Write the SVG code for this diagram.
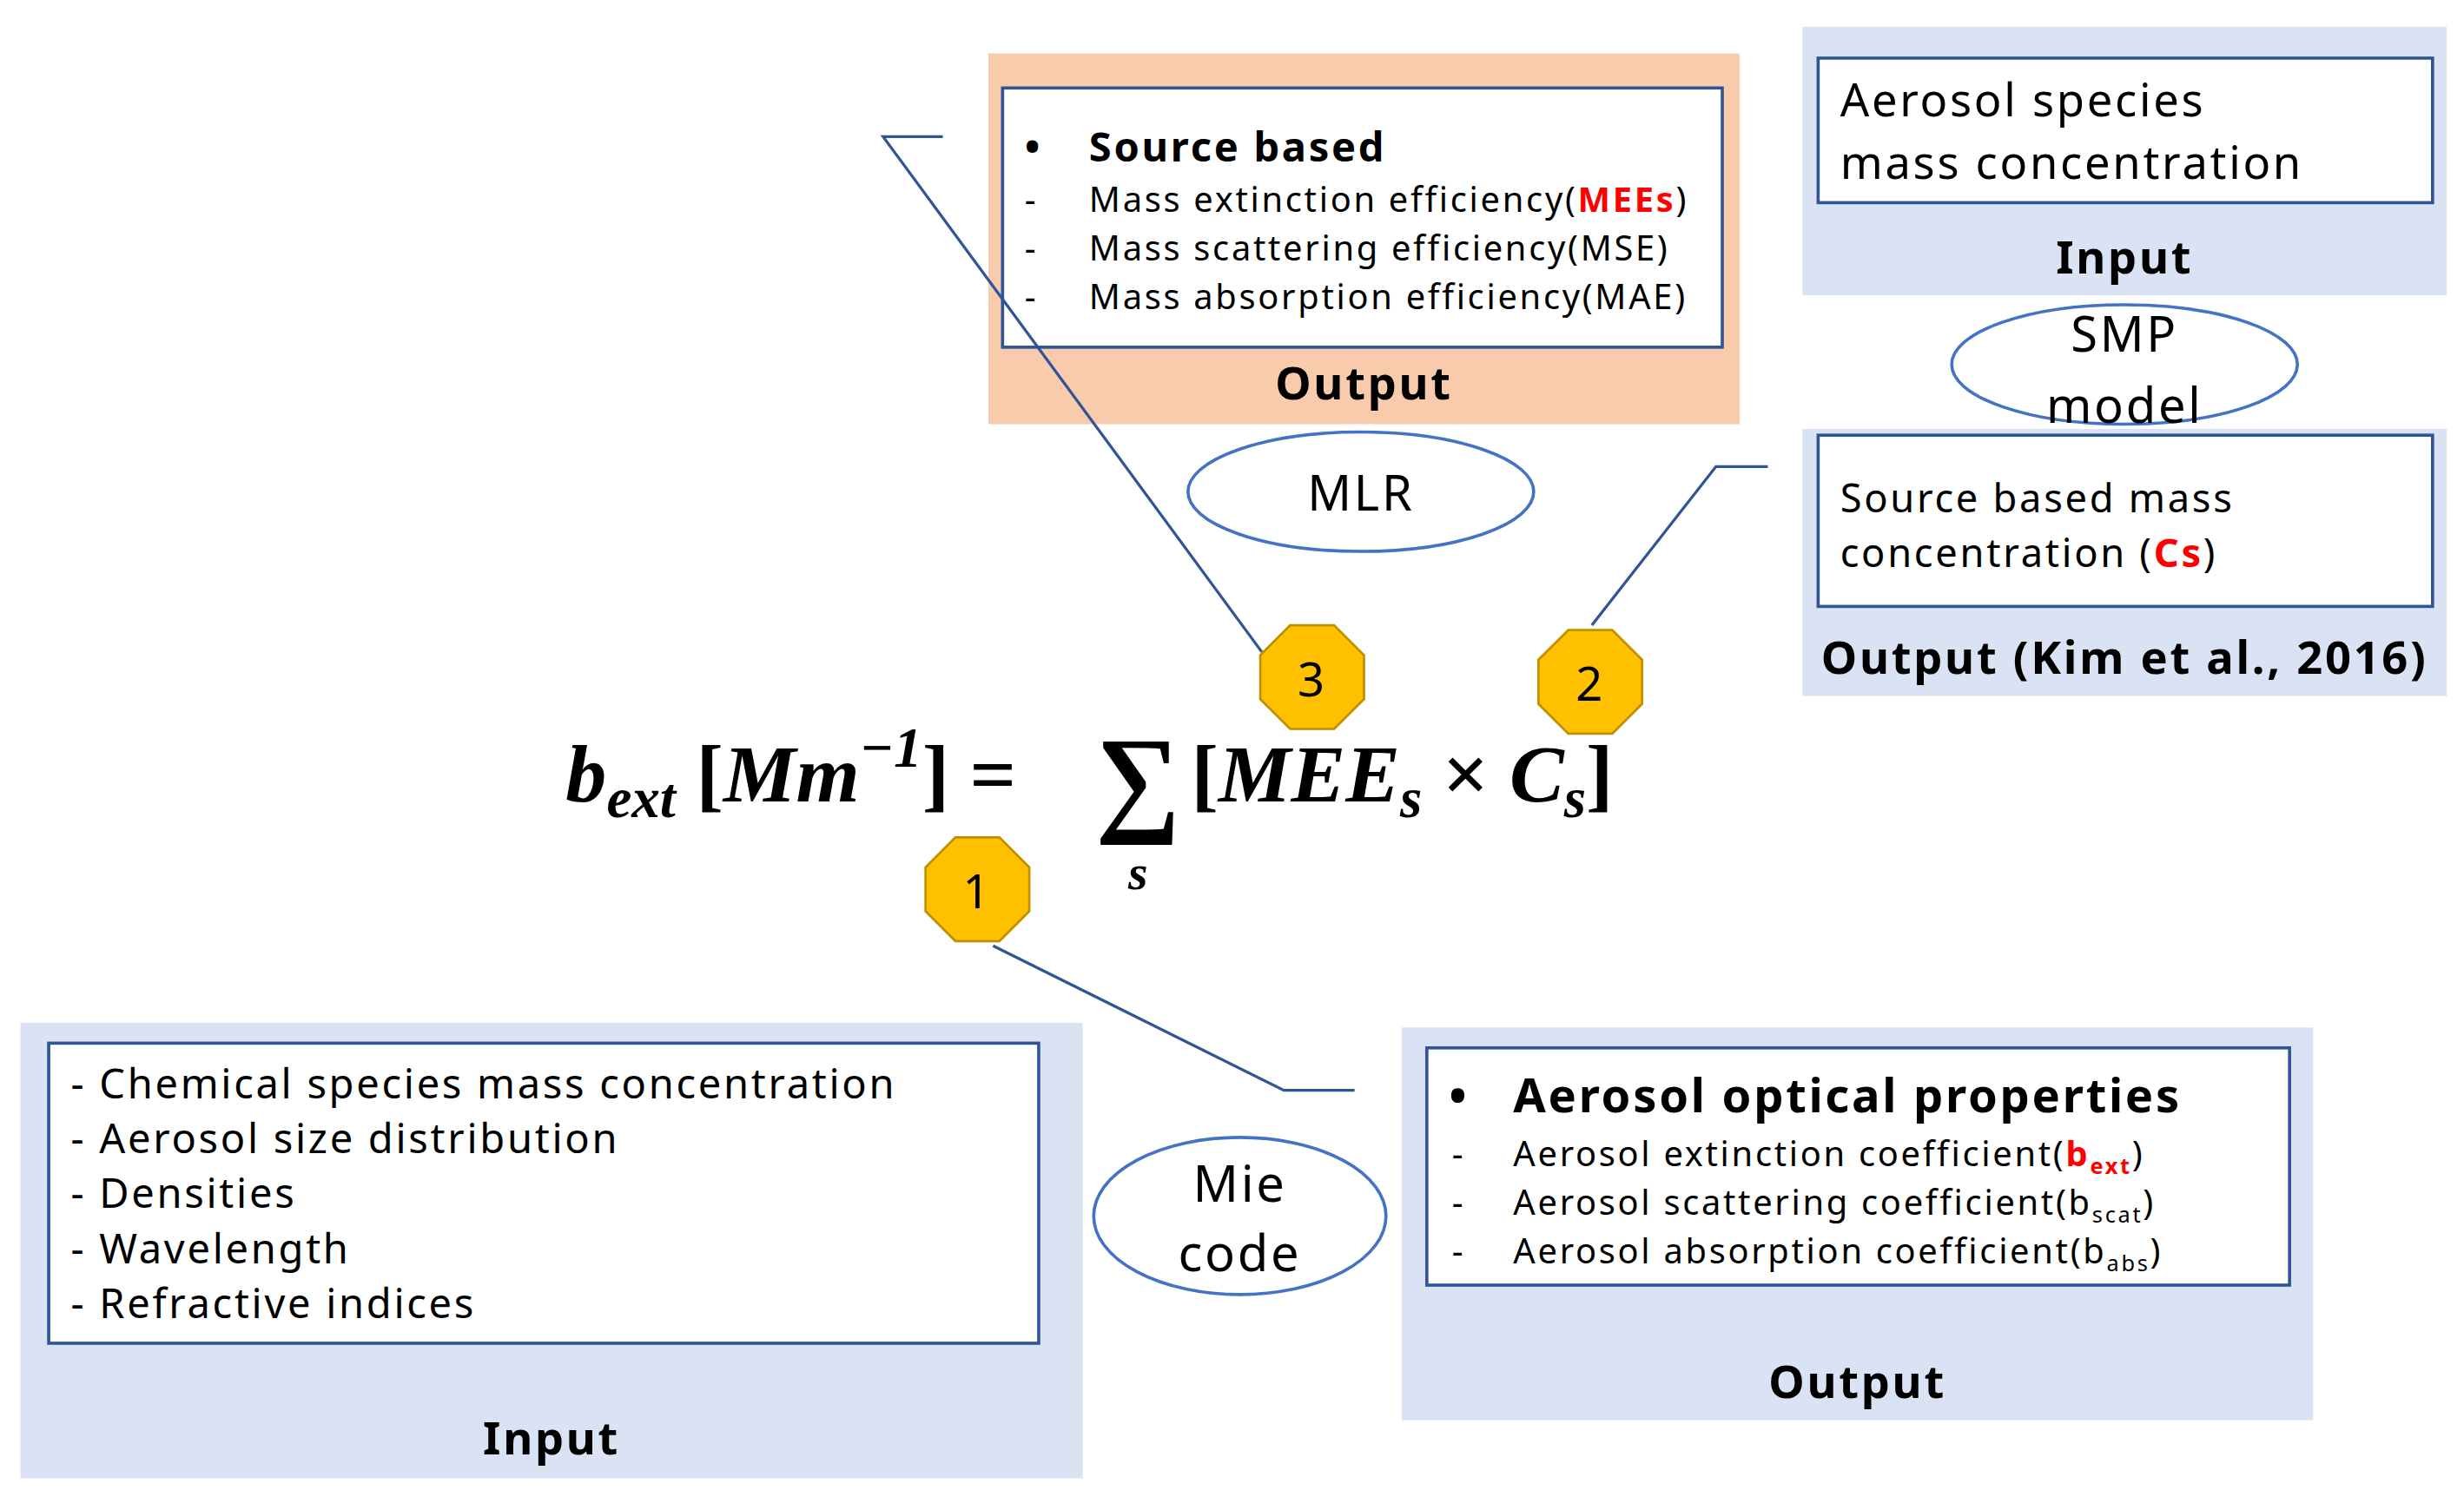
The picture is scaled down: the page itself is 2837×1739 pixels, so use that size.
<svg xmlns="http://www.w3.org/2000/svg" width="2837" height="1739" viewBox="0 0 2837 1739">
<style>
.bg{fill:#DAE3F3}
.wb{fill:#fff;stroke:#2F5597;stroke-width:2}
.el{fill:#fff;stroke:#4472C4;stroke-width:2}
.t{font-family:"Noto Sans","Liberation Sans",sans-serif;fill:#000;letter-spacing:1.5px}
.b{font-weight:bold}
.r{fill:#FF0000;font-weight:bold}
.ln{fill:none;stroke:#2F5597;stroke-width:1.8}
.bd{fill:#FFC000;stroke:#C09000;stroke-width:1.5}
.f{font-family:"Liberation Serif","DejaVu Serif",serif;font-weight:bold;font-style:italic;fill:#000}
.u{font-style:normal}
</style>
<rect width="2837" height="1739" fill="#fff"/>
<g transform="scale(1.8093)">
<g id="mee-output">
<rect x="629" y="34" width="478" height="236" fill="#F8CBAD"/>
<rect class="wb" x="638" y="56" width="458" height="165"/>
<text class="t b" x="652" y="103" font-size="26">•</text>
<text class="t b" x="693" y="103" font-size="26">Source based</text>
<g class="t" font-size="22">
<text x="652" y="135">-</text><text x="693" y="135">Mass extinction efficiency(<tspan class="r">MEEs</tspan>)</text>
<text x="652" y="166">-</text><text x="693" y="166">Mass scattering efficiency(MSE)</text>
<text x="652" y="197">-</text><text x="693" y="197">Mass absorption efficiency(MAE)</text>
</g>
<text class="t b" x="868" y="254" font-size="29" text-anchor="middle">Output</text>
</g>
<g id="species-input">
<rect class="bg" x="1147" y="17" width="410" height="171"/>
<rect class="wb" x="1157" y="37" width="391" height="92"/>
<text class="t" x="1171" y="74" font-size="29">Aerosol species</text>
<text class="t" x="1171" y="114" font-size="29">mass concentration</text>
<text class="t b" x="1352" y="174" font-size="29" text-anchor="middle">Input</text>
</g>
<g id="smp">
<ellipse class="el" cx="1352" cy="232" rx="110" ry="38"/>
<text class="t" x="1352" y="224" font-size="31" text-anchor="middle">SMP</text>
<text class="t" x="1352" y="269" font-size="31" text-anchor="middle">model</text>
</g>
<g id="cs-output">
<rect class="bg" x="1147" y="273" width="410" height="170"/>
<rect class="wb" x="1157" y="277" width="391" height="109"/>
<text class="t" x="1171" y="326" font-size="25">Source based mass</text>
<text class="t" x="1171" y="361" font-size="25">concentration (<tspan class="r">Cs</tspan>)</text>
<text class="t b" x="1352" y="429" font-size="29" text-anchor="middle">Output (Kim et al., 2016)</text>
</g>
<g id="mlr">
<ellipse class="el" cx="866" cy="313" rx="110" ry="38"/>
<text class="t" x="866" y="325" font-size="31" text-anchor="middle">MLR</text>
</g>
<g id="input-left">
<rect class="bg" x="13" y="651" width="676" height="290"/>
<rect class="wb" x="31" y="664" width="630" height="191"/>
<g class="t" font-size="26">
<text x="45" y="699">- Chemical species mass concentration</text>
<text x="45" y="734">- Aerosol size distribution</text>
<text x="45" y="769">- Densities</text>
<text x="45" y="804">- Wavelength</text>
<text x="45" y="839">- Refractive indices</text>
</g>
<text class="t b" x="351" y="926" font-size="29" text-anchor="middle">Input</text>
</g>
<g id="mie">
<ellipse class="el" cx="789" cy="774" rx="93" ry="50"/>
<text class="t" x="789" y="765" font-size="32" text-anchor="middle">Mie</text>
<text class="t" x="789" y="809" font-size="32" text-anchor="middle">code</text>
</g>
<g id="optical-output">
<rect class="bg" x="892" y="654" width="580" height="250"/>
<rect class="wb" x="908" y="667" width="549" height="151"/>
<text class="t b" x="922" y="708" font-size="30">•</text>
<text class="t b" x="963" y="708" font-size="30">Aerosol optical properties</text>
<g class="t" font-size="22">
<text x="924" y="742">-</text><text x="963" y="742">Aerosol extinction coefficient(<tspan class="r">b<tspan font-size="14" dy="5">ext</tspan></tspan><tspan dy="-5">)</tspan></text>
<text x="924" y="773">-</text><text x="963" y="773">Aerosol scattering coefficient(b<tspan font-size="14" dy="5">scat</tspan><tspan dy="-5">)</tspan></text>
<text x="924" y="804">-</text><text x="963" y="804">Aerosol absorption coefficient(b<tspan font-size="14" dy="5">abs</tspan><tspan dy="-5">)</tspan></text>
</g>
<text class="t b" x="1182" y="890" font-size="29" text-anchor="middle">Output</text>
</g>
<g id="connectors">
<polyline class="ln" points="600,87 562,87 803,415"/>
<polyline class="ln" points="1125,297 1092,297 1013,398"/>
<polyline class="ln" points="632,602 817,694 862,694"/>
</g>
<g id="formula">
<text class="f" x="360" y="510" font-size="52">b<tspan font-size="36" dy="10">ext</tspan><tspan dy="-10"> </tspan><tspan class="u">[</tspan>Mm<tspan font-size="36" dy="-22">−1</tspan><tspan dy="22" class="u">] =</tspan></text>
<text class="f u" x="697" y="522" font-size="76">∑</text>
<text class="f" x="718" y="566" font-size="32">s</text>
<text class="f" x="758" y="510" font-size="52"><tspan class="u">[</tspan>MEE<tspan font-size="36" dy="10">s</tspan><tspan dy="-10" class="u"> × </tspan>C<tspan font-size="36" dy="10">s</tspan><tspan dy="-10" class="u">]</tspan></text>
</g>
<g id="badge3">
<polygon class="bd" points="821,398 849,398 868,417 868,445 849,464 821,464 802,445 802,417"/>
<text class="t" x="835" y="443" font-size="30" text-anchor="middle">3</text>
</g>
<g id="badge2">
<polygon class="bd" points="998,401 1026,401 1045,420 1045,448 1026,467 998,467 979,448 979,420"/>
<text class="t" x="1012" y="446" font-size="30" text-anchor="middle">2</text>
</g>
<g id="badge1">
<polygon class="bd" points="608,533 636,533 655,552 655,580 636,599 608,599 589,580 589,552"/>
<text class="t" x="622" y="578" font-size="30" text-anchor="middle">1</text>
</g>
</g>
</svg>
